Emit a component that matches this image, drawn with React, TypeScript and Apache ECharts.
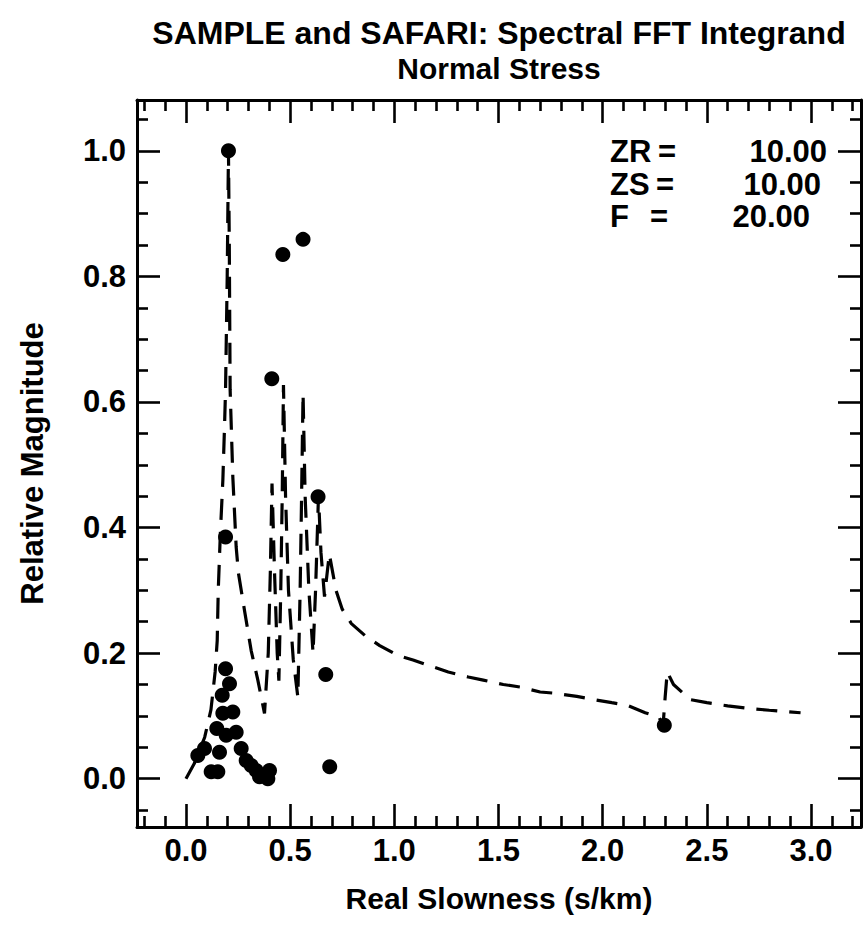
import React, { useEffect, useRef } from "react";
import * as echarts from "echarts";

// ---- Text ----
const titleLines = ["SAMPLE and SAFARI: Spectral FFT Integrand", "Normal Stress"];
const xAxisName = "Real Slowness (s/km)";
const yAxisName = "Relative Magnitude";

// ---- Axes ----
const X_MIN = -0.235;
const X_MAX = 3.24;
const Y_MIN = -0.077;
const Y_MAX = 1.081;
const xMajorTicks = [0, 0.5, 1, 1.5, 2, 2.5, 3];
const xMinorTicks = [-0.2, -0.1, 0.1, 0.2, 0.3, 0.4, 0.6, 0.7, 0.8, 0.9, 1.1, 1.2, 1.3, 1.4, 1.6, 1.7, 1.8, 1.9,
  2.1, 2.2, 2.3, 2.4, 2.6, 2.7, 2.8, 2.9, 3.1, 3.2];
const yMajorTicks = [0, 0.2, 0.4, 0.6, 0.8, 1.0];
const yMinorTicks = [-0.05, 0.05, 0.1, 0.15, 0.25, 0.3, 0.35, 0.45, 0.5, 0.55, 0.65, 0.7, 0.75, 0.85, 0.9, 0.95, 1.05];

// ---- Parameters box ----
const paramNames = ["ZR", "ZS", "F"];
const paramValues = [10.0, 10.0, 20.0];

// ---- Dashed curve (SAFARI) ----
const lineX = [0.0, 0.04, 0.09, 0.12, 0.14, 0.15, 0.155, 0.165, 0.177, 0.185, 0.19, 0.198, 0.204,
  0.208, 0.212, 0.225, 0.241, 0.252, 0.281, 0.313, 0.345, 0.377,
  0.395, 0.405, 0.413, 0.425, 0.438, 0.446, 0.455, 0.462, 0.468, 0.478, 0.492, 0.515, 0.537,
  0.548, 0.555, 0.562, 0.572, 0.59, 0.61, 0.622, 0.636, 0.648, 0.665, 0.688, 0.72, 0.75,
  0.794, 0.866, 0.93, 1.018, 1.09, 1.187, 1.259, 1.355, 1.427, 1.523, 1.603, 1.7, 1.772, 1.876,
  1.94, 2.044, 2.116, 2.204, 2.27, 2.29, 2.3, 2.31, 2.34, 2.42, 2.5, 2.6, 2.7, 2.8, 2.95];
const lineY = [0.0, 0.024, 0.066, 0.11, 0.17, 0.22, 0.3, 0.39, 0.475, 0.56, 0.62, 0.8, 1.0,
  0.85, 0.62, 0.48, 0.369, 0.327, 0.268, 0.204, 0.157, 0.104,
  0.2, 0.33, 0.47, 0.33, 0.2, 0.156, 0.3, 0.45, 0.627, 0.45, 0.3, 0.19, 0.13,
  0.3, 0.45, 0.613, 0.45, 0.3, 0.2, 0.3, 0.45, 0.36, 0.29, 0.358, 0.3, 0.27,
  0.247, 0.226, 0.212, 0.196, 0.189, 0.178, 0.17, 0.162, 0.157, 0.15, 0.146, 0.138, 0.136, 0.131,
  0.127, 0.121, 0.117, 0.105, 0.098, 0.085, 0.13, 0.17, 0.15, 0.126, 0.121, 0.116, 0.112, 0.109, 0.105];

// ---- Dots (SAMPLE) ----
const dotX = [0.204, 0.19, 0.412, 0.465, 0.562, 0.634, 0.671, 0.69, 2.296,
  0.19, 0.209, 0.174, 0.225, 0.177, 0.148, 0.241, 0.193, 0.089, 0.057, 0.161, 0.265, 0.289,
  0.121, 0.153, 0.337, 0.353, 0.401, 0.393, 0.313];
const dotY = [1.0, 0.385, 0.637, 0.835, 0.859, 0.449, 0.166, 0.019, 0.085,
  0.175, 0.151, 0.133, 0.106, 0.104, 0.08, 0.074, 0.069, 0.048, 0.037, 0.042, 0.048, 0.029,
  0.011, 0.011, 0.013, 0.003, 0.013, 0.0, 0.021];

const FONT = '"Liberation Sans", Arial, Helvetica, sans-serif';
const BLACK = "#000";

function tickAxis(kind: "x" | "y", position: string, values: number[], length: number, showLine: boolean) {
  return {
    type: "value",
    position,
    min: kind === "x" ? X_MIN : Y_MIN,
    max: kind === "x" ? X_MAX : Y_MAX,
    axisLine: { show: showLine, onZero: false, lineStyle: { color: BLACK, width: 3 } },
    axisTick: { show: true, inside: true, length, customValues: values, lineStyle: { color: BLACK, width: 2.6 } },
    axisLabel: { show: false },
    splitLine: { show: false },
    minorTick: { show: false },
  };
}

export default function App() {
  const ref = useRef<HTMLDivElement>(null);
  useEffect(() => {
    if (!ref.current) return;
    const chart = echarts.init(ref.current, null, { renderer: "svg" });
    const lineData = lineX.map((x, i) => [x, lineY[i]]);
    const dotData = dotX.map((x, i) => [x, dotY[i]]);

    const labelStyle = { fontSize: 31, fontWeight: "bold", fontFamily: FONT, color: BLACK };

    const xBottom: any = tickAxis("x", "bottom", xMajorTicks, 23, true);
    xBottom.axisLabel = {
      show: true,
      customValues: xMajorTicks,
      formatter: (v: number) => v.toFixed(1),
      margin: 8,
      ...labelStyle,
    };
    xBottom.name = xAxisName;
    xBottom.nameLocation = "middle";
    xBottom.nameGap = 56;
    xBottom.nameTextStyle = { fontSize: 30, fontWeight: "bold", fontFamily: FONT, color: BLACK };

    const yLeft: any = tickAxis("y", "left", yMajorTicks, 23, true);
    yLeft.axisLabel = {
      show: true,
      customValues: yMajorTicks,
      formatter: (v: number) => v.toFixed(1),
      margin: 11,
      ...labelStyle,
    };
    yLeft.name = yAxisName;
    yLeft.nameLocation = "middle";
    yLeft.nameRotate = 90;
    yLeft.nameGap = 89;
    yLeft.nameTextStyle = { fontSize: 31, fontWeight: "bold", fontFamily: FONT, color: BLACK };

    const paramRowsY = [151, 184, 216];
    const eqX = [658, 656, 650];
    const valRight = [827, 821, 810];
    const graphics: any[] = [];
    paramNames.forEach((n, i) => {
      const st = {
        fill: BLACK,
        font: `bold 31px ${FONT}`,
        verticalAlign: "middle",
        textVerticalAlign: "middle",
      };
      graphics.push({ type: "text", x: 610, y: paramRowsY[i], style: { ...st, text: n, align: "left", textAlign: "left" } });
      graphics.push({ type: "text", x: eqX[i], y: paramRowsY[i], style: { ...st, text: "=", align: "left", textAlign: "left" } });
      graphics.push({
        type: "text", x: valRight[i], y: paramRowsY[i],
        style: { ...st, text: paramValues[i].toFixed(2), align: "right", textAlign: "right" },
      });
    });

    const titleTops = [17, 53];
    const titleSizes = [32, 30];
    chart.setOption({
      animation: false,
      backgroundColor: "#fff",
      title: titleLines.map((t, i) => ({
        text: t,
        left: 499,
        top: titleTops[i],
        padding: 0,
        textAlign: "center",
        textStyle: {
          fontSize: titleSizes[i],
          fontWeight: "bold",
          fontFamily: FONT,
          color: BLACK,
          lineHeight: titleSizes[i],
        },
      })),
      grid: { left: 137, right: 3, top: 100, bottom: 108, containLabel: false, outerBoundsMode: "none" },
      xAxis: [
        xBottom,
        tickAxis("x", "bottom", xMinorTicks, 11, false),
        tickAxis("x", "top", xMajorTicks, 23, true),
        tickAxis("x", "top", xMinorTicks, 11, false),
      ],
      yAxis: [
        yLeft,
        tickAxis("y", "left", yMinorTicks, 11, false),
        tickAxis("y", "right", yMajorTicks, 23, true),
        tickAxis("y", "right", yMinorTicks, 11, false),
      ],
      series: [
        {
          name: "SAFARI",
          type: "line",
          data: lineData,
          xAxisIndex: 0,
          yAxisIndex: 0,
          showSymbol: false,
          symbol: "none",
          smooth: false,
          lineStyle: { color: BLACK, width: 3.2, type: [21, 12] },
          z: 2,
        },
        {
          name: "SAMPLE",
          type: "scatter",
          data: dotData,
          xAxisIndex: 0,
          yAxisIndex: 0,
          symbol: "circle",
          symbolSize: 15,
          itemStyle: { color: BLACK, opacity: 1 },
          z: 3,
        },
      ],
      graphic: graphics,
    });
    return () => chart.dispose();
  }, []);
  return <div ref={ref} style={{ position: "absolute", left: 0, top: 0, width: 864, height: 935 }} />;
}
